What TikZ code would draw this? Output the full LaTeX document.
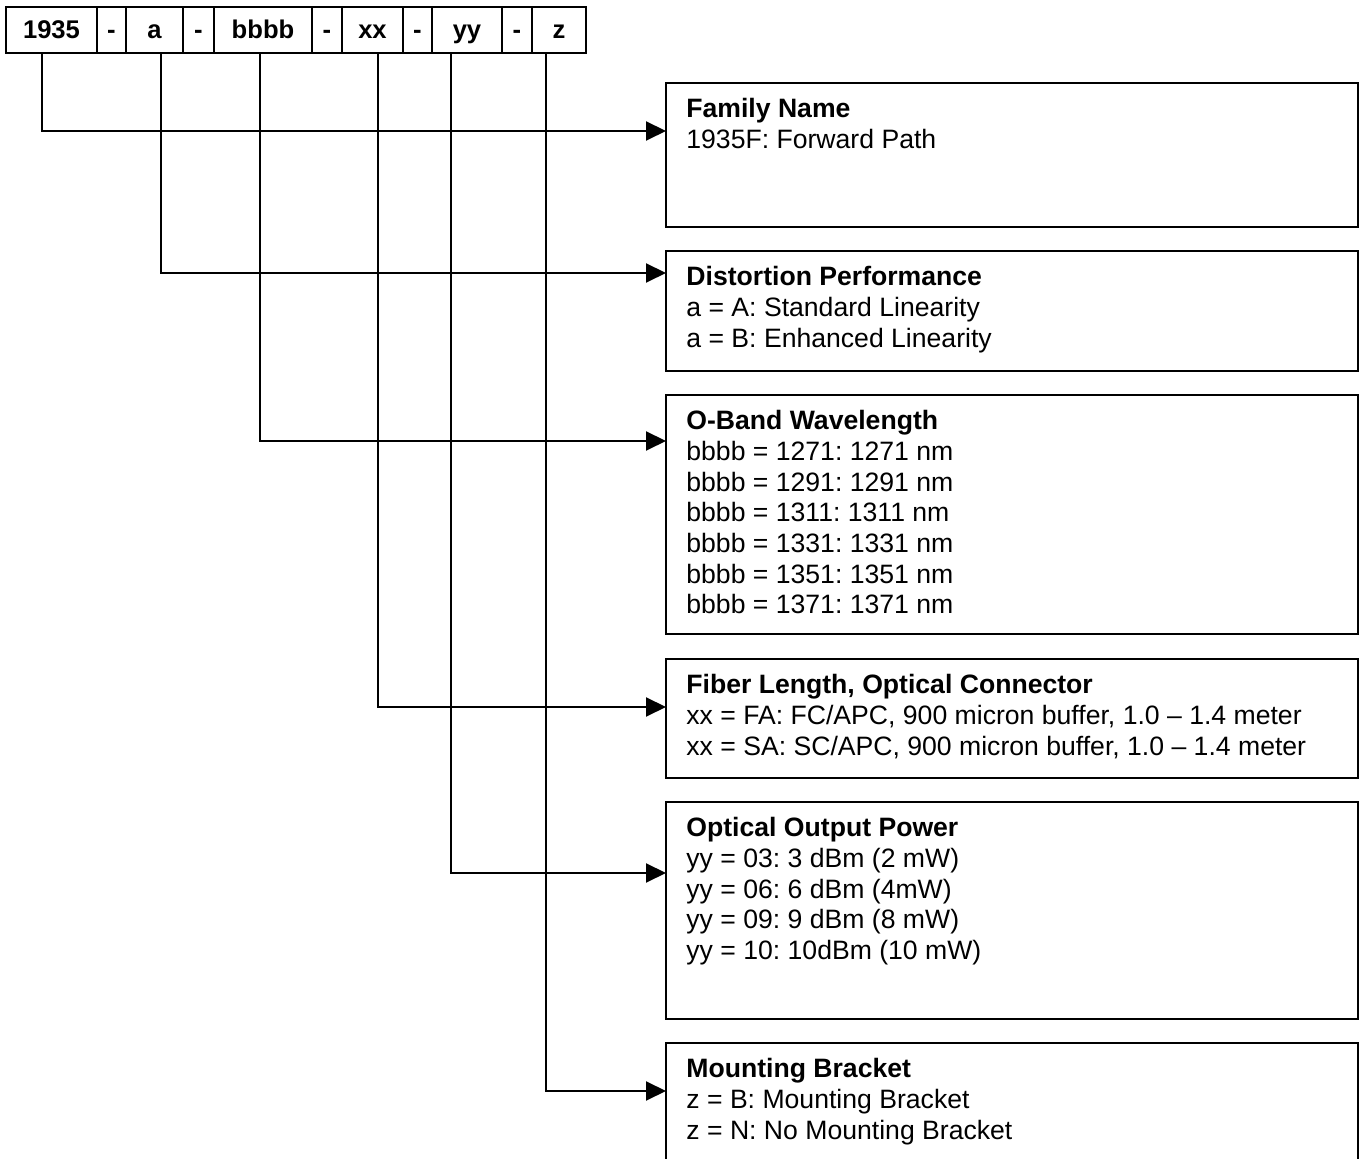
\documentclass[tikz,border=0pt]{standalone}
\usepackage{fontspec}
\setmainfont{Liberation Sans}
\frenchspacing
\usetikzlibrary{arrows.meta,
                positioning}
\tikzset{
        base/.style={draw, line width=1pt, inner sep=0pt, outer sep=0pt},
        cell/.style={base, minimum height=23pt, minimum width=#1,
                     text height=9pt, text depth=0pt,
                     font=\fontsize{12.8}{15}\selectfont\bfseries},
        panel/.style={base, anchor=north west, minimum width=346pt,
                      minimum height=#1},
        desc/.style={anchor=north west, inner sep=0pt, align=left,
                     font=\fontsize{13.3}{15.35}\selectfont},
        myarrow/.style={-{Triangle[length=10pt, width=9.5pt]}, line width=1pt},
 }

\begin{document}
\begin{tikzpicture}[x=0.5pt, y=-0.5pt]
    \path[use as bounding box] (0,0) rectangle (1361,1159);

    \node[cell=45.5pt] (n1935) at (51.5,30) {1935};
    \node[cell=14.5pt, right=0pt of n1935] (d1) {-};
    \node[cell=28.5pt, right=0pt of d1] (na) {a};
    \node[cell=15.5pt, right=0pt of na] (d2) {-};
    \node[cell=49pt, right=0pt of d2] (nbbbb) {bbbb};
    \node[cell=15pt, right=0pt of nbbbb] (d3) {-};
    \node[cell=30.5pt, right=0pt of d3] (nxx) {xx};
    \node[cell=14.5pt, right=0pt of nxx] (d4) {-};
    \node[cell=35pt, right=0pt of d4] (nyy) {yy};
    \node[cell=15pt, right=0pt of nyy] (d5) {-};
    \node[cell=27pt, right=0pt of d5] (nz) {z};

    \node[panel=72pt] (fam) at (666,83) {};
    \node[panel=60pt] (dist) at (666,251) {};
    \node[panel=119.5pt] (band) at (666,395) {};
    \node[panel=59.5pt] (fiber) at (666,659) {};
    \node[panel=108.5pt] (power) at (666,802) {};
    \node[panel=63.5pt] (bracket) at (666,1043) {};

    \node[desc] (famtxt) at ([xshift=10pt, yshift=-7.5pt]fam.north west)
        {\textbf{Family Name}\\1935F: Forward Path};
    \node[desc] (disttxt) at ([xshift=10pt, yshift=-7.5pt]dist.north west)
        {\textbf{Distortion Performance}\\a = A: Standard Linearity\\
         a = B: Enhanced Linearity};
    \node[desc] (bandtxt) at ([xshift=10pt, yshift=-7.5pt]band.north west)
        {\textbf{O-Band Wavelength}\\bbbb = 1271: 1271 nm\\bbbb = 1291: 1291 nm\\
         bbbb = 1311: 1311 nm\\bbbb = 1331: 1331 nm\\bbbb = 1351: 1351 nm\\
         bbbb = 1371: 1371 nm};
    \node[desc] (fibertxt) at ([xshift=10pt, yshift=-7.5pt]fiber.north west)
        {\textbf{Fiber Length, Optical Connector}\\
         xx = FA: FC/APC, 900 micron buffer, 1.0 – 1.4 meter\\
         xx = SA: SC/APC, 900 micron buffer, 1.0 – 1.4 meter};
    \node[desc] (powertxt) at ([xshift=10pt, yshift=-7.5pt]power.north west)
        {\textbf{Optical Output Power}\\yy = 03: 3 dBm (2 mW)\\
         yy = 06: 6 dBm (4mW)\\yy = 09: 9 dBm (8 mW)\\yy = 10: 10dBm (10 mW)};
    \node[desc] (brackettxt) at ([xshift=10pt, yshift=-7.5pt]bracket.north west)
        {\textbf{Mounting Bracket}\\z = B: Mounting Bracket\\
         z = N: No Mounting Bracket};

    \draw[myarrow] ([xshift=-4.75pt]n1935.south) |- ([yshift=-24pt]fam.north west);
    \draw[myarrow] ([xshift=3.25pt]na.south) |- ([yshift=-11pt]dist.north west);
    \draw[myarrow] ([xshift=-1.5pt]nbbbb.south) |- ([yshift=-23pt]band.north west);
    \draw[myarrow] ([xshift=2.75pt]nxx.south) |- ([yshift=-24pt]fiber.north west);
    \draw[myarrow] ([xshift=-8pt]nyy.south) |- ([yshift=-35.5pt]power.north west);
    \draw[myarrow] ([xshift=-6.5pt]nz.south) |- ([yshift=-24pt]bracket.north west);
\end{tikzpicture}
\end{document}
